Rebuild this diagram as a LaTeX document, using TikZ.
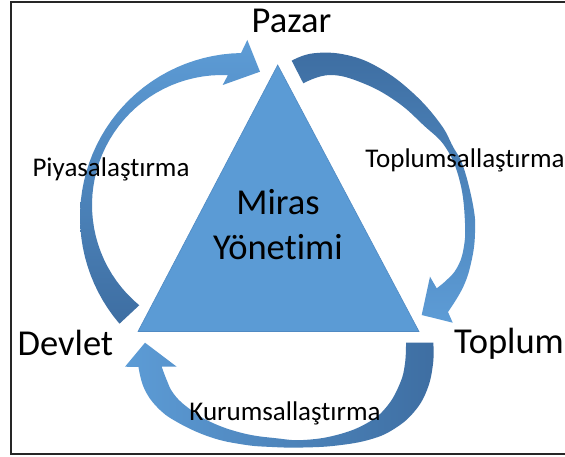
\documentclass[tikz,border=0pt]{standalone}
\usepackage{fontspec}
\setmainfont{Carlito}[Ligatures=NoCommon]
\definecolor{lblue}{RGB}{93,156,214}
\definecolor{dblue}{RGB}{62,110,162}
\definecolor{tri}{RGB}{91,155,213}
\definecolor{triedge}{RGB}{80,138,195}
\begin{document}
\begin{tikzpicture}[x=1pt,y=-1pt,
  big/.style={font=\fontsize{36.5}{45}\selectfont, inner sep=0pt, text=black},
  small/.style={font=\fontsize{27}{31}\selectfont, inner sep=0pt, text=black},
  frameline/.style={line width=1.5pt, draw=black!85},
  block/.style={draw=none}]
\useasboundingbox (0,0) rectangle (565,457);
\fill[white] (0,0) rectangle (565,457);
\draw[frameline] (566,2) -- (10.8,2) -- (10.8,454) -- (566,454);

% triangle
\coordinate (apex) at (277.7,65);
\coordinate (bl) at (138,331.5);
\coordinate (br) at (419,331.5);
\filldraw[fill=tri, draw=triedge, line width=0.6pt] (apex) -- (br) -- (bl) -- cycle;

% left curved arrow (Devlet -> Pazar)
\shade[block, top color=lblue, bottom color=dblue]
  plot[domain=0:1, samples=40, variable=\t]
    ({244+164*cos(220.6-129.6*\t)},{217-164*sin(220.6-129.6*\t)})
  -- (247.3,40) -- (260,71.7) -- (222.7,85)
  -- plot[domain=0:1, samples=40, variable=\t]
    ({222+130*cos(87.4+143.1*\t)},{205-130*sin(87.4+143.1*\t)})
  -- cycle;

% right curved arrow (Pazar -> Toplum)
\shade[block, top color=dblue, bottom color=lblue]
  plot[smooth, tension=0.7] coordinates {(291.7,60.7) (313.3,53.3) (346.7,55) (380,68.3) (413.3,93.3) (440,123.3) (453,146.7) (463.3,166.7) (473.3,206.7) (475,233) (471.7,260) (463.3,286.7) (448,312)}
  -- (452.7,322.7) -- (421.7,315) -- (430,276.7)
  -- plot[smooth, tension=0.7] coordinates {(436.7,288.3) (446.7,280) (456.7,268.3) (463.3,250) (465,223) (460,182) (446,148) (423.3,125) (396.7,101.7) (363.3,83.3) (330,75) (303.3,83.3)}
  -- cycle;

% bottom curved arrow (Toplum -> Devlet)
\shade[block, left color=lblue, right color=dblue]
  plot[smooth, tension=0.7] coordinates {(433.3,342.7) (433,364) (427,390) (414,412) (394,429) (370,439.5) (337,445.5) (303,447.5) (272,447) (243,444.5) (210,437) (177,422) (157,407) (144,388) (138.5,367)}
  -- (125,366.7) -- (145,342.7) -- (176.7,366.7)
  -- plot[smooth, tension=0.7] coordinates {(161.7,366.7) (166.7,380) (173.3,393.3) (186.7,406.7) (210,421.7) (243.3,433.3) (276.7,438.3) (303.3,440) (336.7,435) (366.7,423.3) (386.7,406.7) (400,383.3) (405,363.3) (406,342.7)}
  -- cycle;

% labels
\node[big, anchor=base] (pazar) at (291.5,33) {Pazar};
\node[big, anchor=base west] (devlet) at (17.5,355) {Devlet};
\node[big, anchor=base west] (toplum) at (454,353) {Toplum};
\node[big, align=center, anchor=center] (miras) at (278,225) {Miras\\Yönetimi};
\node[small, anchor=base] (piy) at (111,177) {Piyasalaştırma};
\node[small, anchor=base] (toplab) at (465,168) {Toplumsallaştırma};
\node[small, anchor=base] (kur) at (285,420) {Kurumsallaştırma};
\end{tikzpicture}
\end{document}
